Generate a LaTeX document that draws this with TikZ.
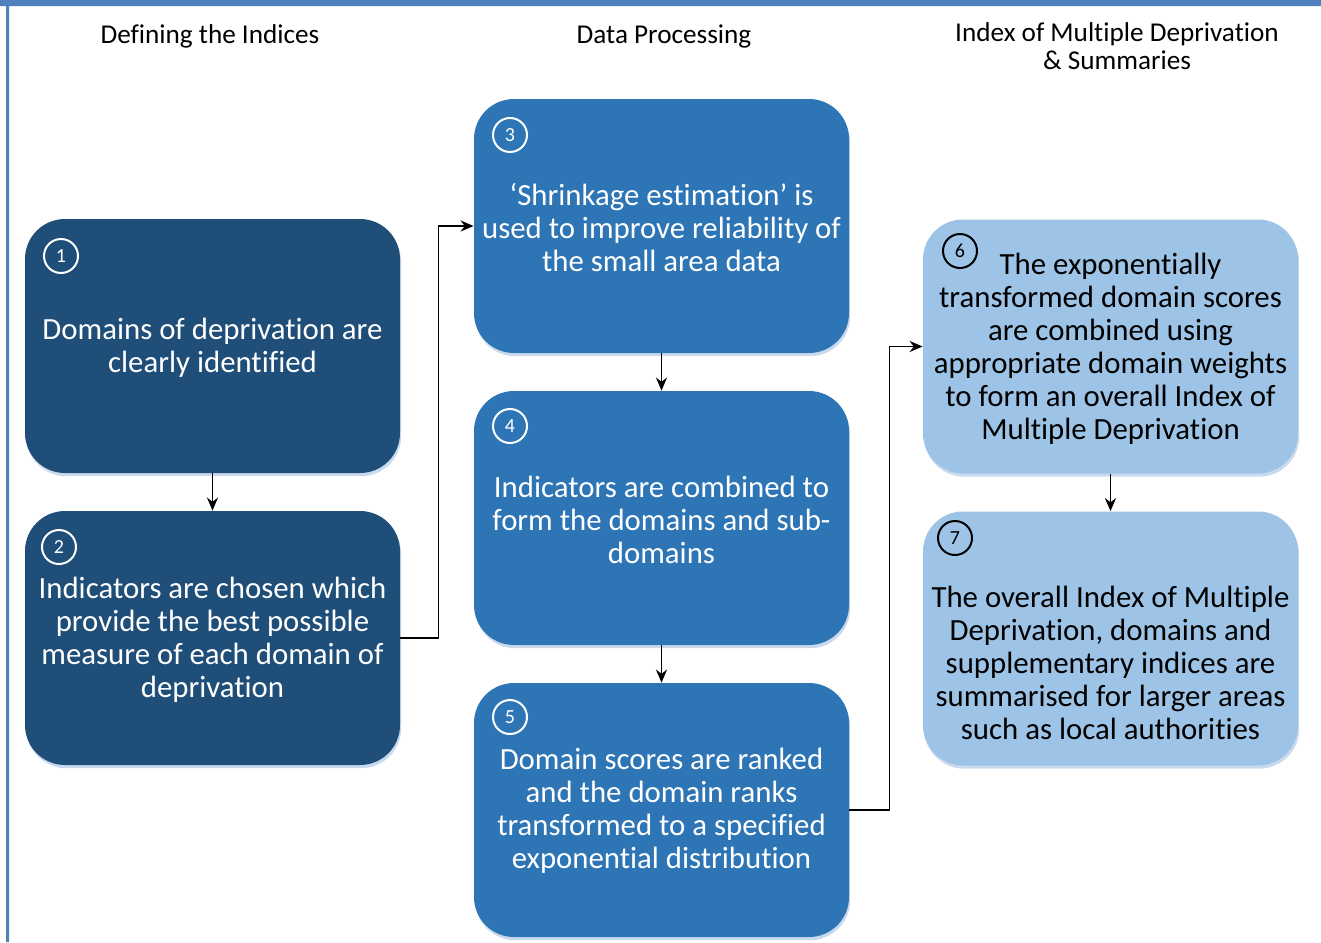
\documentclass[tikz,border=0pt]{standalone}
\usepackage{fontspec}
\setmainfont{Carlito}[Ligatures=NoCommon]
\usepackage{xcolor}
\usetikzlibrary{arrows.meta, shadows}
\definecolor{frameblue}{HTML}{4F81BD}
\definecolor{darkblue}{HTML}{1F4E79}
\definecolor{midblue}{HTML}{2E75B6}
\definecolor{lightblue}{HTML}{9DC3E6}
\definecolor{shadowblue}{HTML}{C9DAEE}
\tikzstyle{arrow}    = [line width=0.9pt,->,>={Stealth[length=6.5pt,width=5.5pt]}]
\tikzstyle{stagebox} = [rounded corners=20pt, minimum width=187.5pt, minimum height=127pt,
                        inner sep=0pt, drop shadow={shadow xshift=0.6pt, shadow yshift=-1.6pt, fill=shadowblue, opacity=1}]
\tikzstyle{boxtext}  = [align=center, inner sep=0pt, font=\fontsize{15.4}{16.5}\selectfont]
\tikzstyle{heading}  = [align=center, inner sep=0pt, font=\fontsize{13.6}{14.2}\selectfont]
\tikzstyle{number}   = [circle, draw, line width=1pt, minimum size=17pt, inner sep=0pt,
                        font=\fontsize{10}{11}\selectfont]

\begin{document}
\begin{tikzpicture}[x=0.5pt,y=-0.5pt]
  \useasboundingbox (0,0) rectangle (1321,942);
  % frame
  \fill[frameblue] (0,0) rectangle (1321,6) (6,0) rectangle (9,942);

  % headings
  \node (h1) [heading] at (210,36) {Defining the Indices};
  \node (h2) [heading] at (664,36) {Data Processing};
  \node (h3) [heading] at (1117,46) {Index of Multiple Deprivation\\\& Summaries};

  % boxes
  \node (b1) [stagebox, fill=darkblue]  at (212.5,346) {};
  \node (b2) [stagebox, fill=darkblue]  at (212.5,638) {};
  \node (b3) [stagebox, fill=midblue]   at (661.5,226) {};
  \node (b4) [stagebox, fill=midblue]   at (661.5,518) {};
  \node (b5) [stagebox, fill=midblue]   at (661.5,810) {};
  \node (b6) [stagebox, fill=lightblue] at (1110.5,346.5) {};
  \node (b7) [stagebox, fill=lightblue] at (1110.5,638.5) {};

  % numbers
  \node (n1) [number, draw=white, text=white] at (61,256) {1};
  \node (n2) [number, draw=white, text=white] at (59,547) {2};
  \node (n3) [number, draw=white, text=white] at (510,135) {3};
  \node (n4) [number, draw=white, text=white] at (510,426) {4};
  \node (n5) [number, draw=white, text=white] at (510,717) {5};
  \node (n6) [number, draw=black] at (960,251) {6};
  \node (n7) [number, draw=black] at (955,538) {7};

  % texts
  \node (t1) [boxtext, text=white] at (212.5,348) {Domains of deprivation are\\clearly identified};
  \node (t2) [boxtext, text=white] at (212.5,640) {Indicators are chosen which\\provide the best possible\\measure of each domain of\\deprivation};
  \node (t3) [boxtext, text=white] at (661.5,228) {‘Shrinkage estimation’ is\\used to improve reliability of\\the small area data};
  \node (t4) [boxtext, text=white] at (661.5,520) {Indicators are combined to\\form the domains and sub-\\domains};
  \node (t5) [boxtext, text=white] at (661.5,811) {Domain scores are ranked\\and the domain ranks\\transformed to a specified\\exponential distribution};
  \node (t6) [boxtext] at (1110.5,349) {The exponentially\\transformed domain scores\\are combined using\\appropriate domain weights\\to form an overall Index of\\Multiple Deprivation};
  \node (t7) [boxtext] at (1110.5,663) {The overall Index of Multiple\\Deprivation, domains and\\supplementary indices are\\summarised for larger areas\\such as local authorities};

  % connectors
  \draw[arrow] (b1) -- (b2);
  \draw[arrow] (b2.east) -- ++(38,0) |- (b3.west);
  \draw[arrow] (b3) -- (b4);
  \draw[arrow] (b4) -- (b5);
  \draw[arrow] (b5.east) -- ++(40,0) |- (b6.west);
  \draw[arrow] (b6) -- (b7);
\end{tikzpicture}
\end{document}
